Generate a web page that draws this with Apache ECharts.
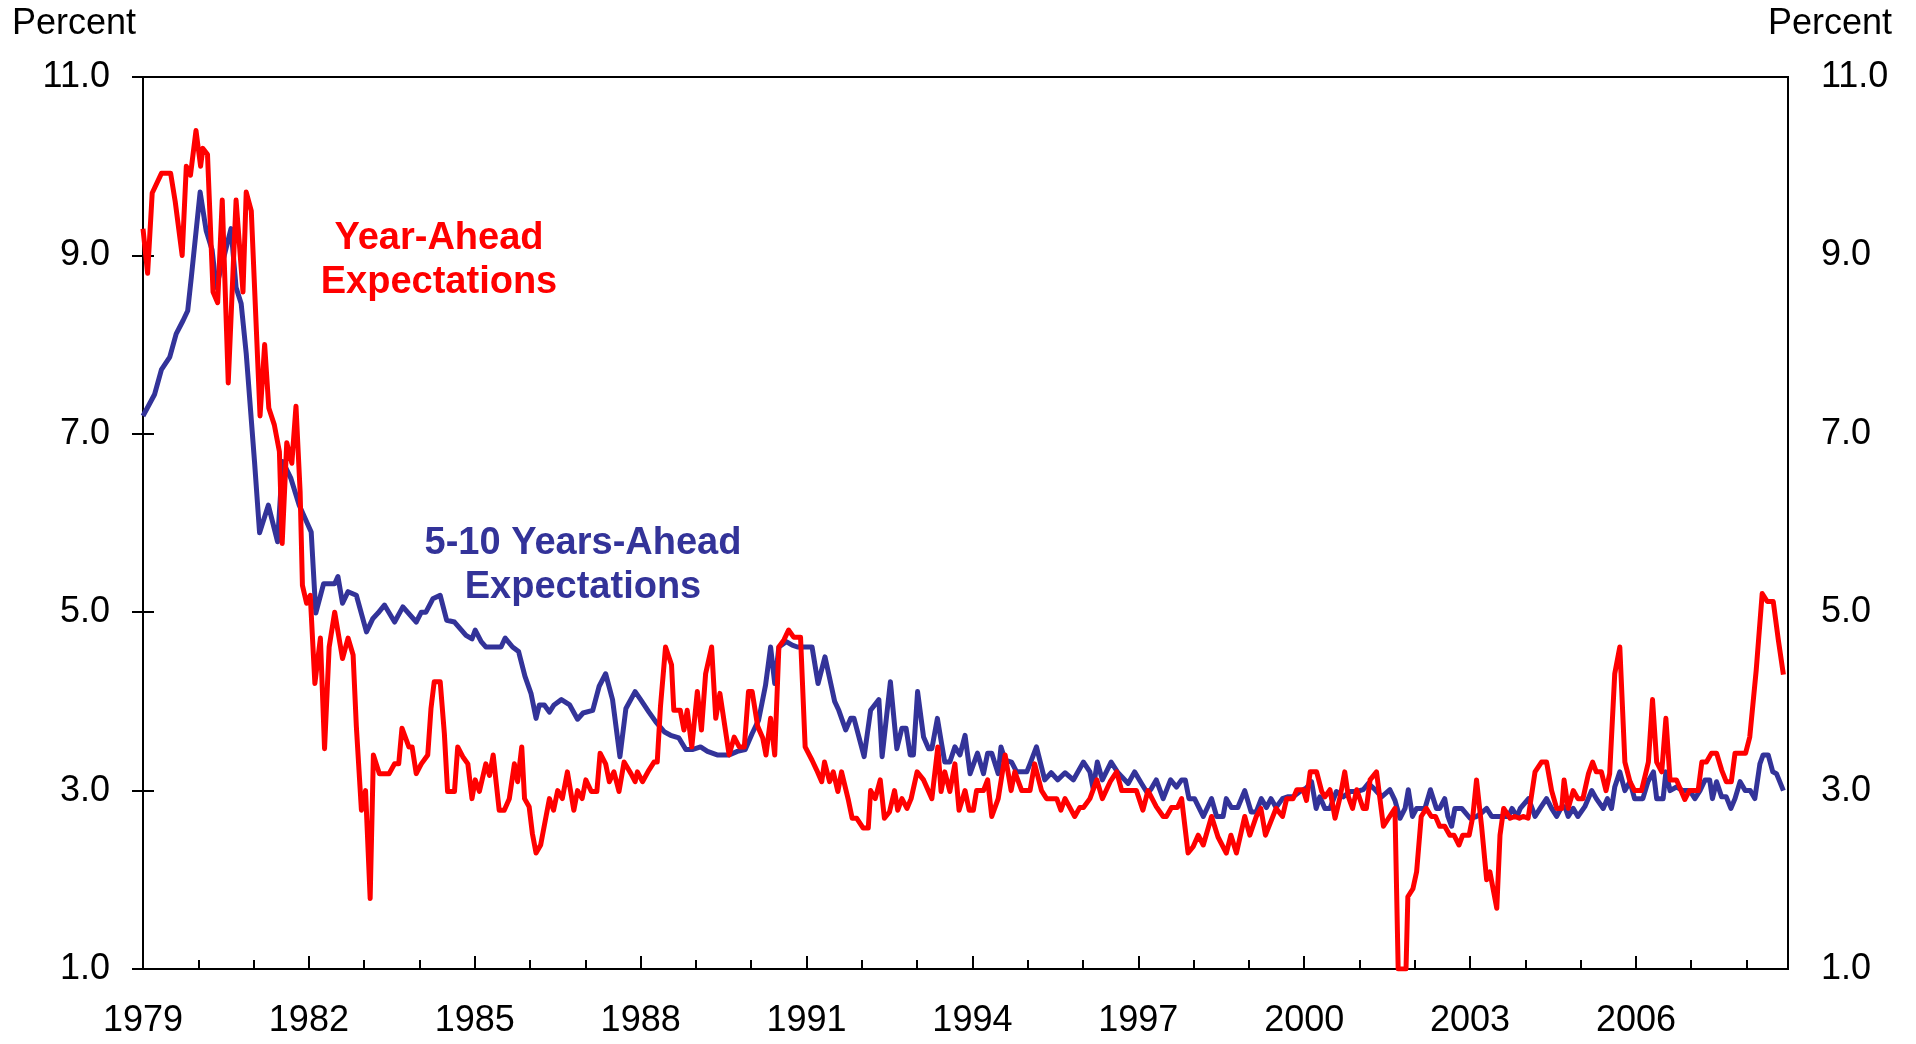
<!DOCTYPE html>
<html>
<head>
<meta charset="utf-8">
<title>Inflation Expectations</title>
<script src="https://cdn.jsdelivr.net/npm/echarts@6.0.0/dist/echarts.min.js"></script>
<style>
  html, body { margin: 0; padding: 0; background: #fff; }
  #chart { width: 1916px; height: 1044px; }
</style>
</head>
<body>
<div id="chart"></div>
<script>
// x = months since Jan 1979, y = percent
var startYear = 1979;
var lastMonth = 357;
var yTicks = [1, 3, 5, 7, 9, 11];

// 5-10 years-ahead expectations
var longRun = [
  [0, 7.2], [2.5, 7.44], [4, 7.72], [5.8, 7.86], [7.2, 8.12], [8.7, 8.27], [9.7, 8.38], [10.5, 8.76],
  [12.4, 9.71], [13.7, 9.28], [15, 9.06], [15.9, 8.64], [19.1, 9.3], [20.2, 8.64], [21.3, 8.46], [22.4, 7.9],
  [24.2, 6.69], [25.3, 5.89], [27.2, 6.2], [29.2, 5.79], [30.3, 6.69], [32.1, 6.5], [33.9, 6.2], [36.5, 5.9],
  [37.5, 4.99], [39.2, 5.32], [41.6, 5.32], [42.3, 5.4], [43.3, 5.1], [44.5, 5.23], [46.3, 5.19], [48.5, 4.78],
  [49.9, 4.93], [51, 4.99], [52.4, 5.08], [54.6, 4.89], [56.4, 5.06], [59.3, 4.89], [60.4, 5.0], [61.4, 5.0],
  [62.9, 5.15], [64.5, 5.19], [65.9, 4.91], [67.6, 4.89], [70.1, 4.74], [71.4, 4.7], [72.1, 4.8], [73.4, 4.67],
  [74.4, 4.61], [77.7, 4.61], [78.6, 4.71], [80.2, 4.61], [81.5, 4.56], [82.9, 4.28], [84.2, 4.09], [85.3, 3.81],
  [86, 3.96], [87.1, 3.96], [88.2, 3.88], [89.2, 3.96], [90.8, 4.02], [92.6, 3.96], [94.3, 3.8], [95.5, 3.87],
  [97.6, 3.9], [99, 4.17], [100.4, 4.31], [101.9, 4.02], [103.5, 3.38], [104.8, 3.92], [106.8, 4.11], [108, 4.02],
  [109.8, 3.88], [111.3, 3.77], [113.1, 3.66], [114.5, 3.62], [116.3, 3.59], [117.8, 3.46], [119.2, 3.46], [121, 3.49],
  [122.5, 3.44], [124.6, 3.4], [127.2, 3.4], [129, 3.44], [130.7, 3.46], [132.2, 3.64], [133.6, 3.79], [135.1, 4.18],
  [136.2, 4.61], [137.1, 4.2], [138, 4.61], [139.6, 4.67], [140.9, 4.63], [142, 4.61], [145.2, 4.61], [146.5, 4.2],
  [148, 4.5], [150.1, 4.0], [151, 3.9], [152.5, 3.68], [153.6, 3.81], [154.3, 3.81], [156.5, 3.38], [157.9, 3.9],
  [159.7, 4.02], [160.4, 3.38], [162.2, 4.22], [163.6, 3.47], [164.7, 3.7], [165.6, 3.7], [166.5, 3.4], [167.2, 3.4],
  [168.1, 4.11], [169.4, 3.6], [170.5, 3.47], [171.2, 3.47], [172.4, 3.81], [173.3, 3.53], [174, 3.32], [175.1, 3.32],
  [176.2, 3.49], [177.3, 3.4], [178.4, 3.62], [179.5, 3.19], [181.1, 3.42], [182.4, 3.19], [183.3, 3.42], [184.2, 3.42],
  [185.6, 3.19], [186.2, 3.49], [187.1, 3.34], [188.5, 3.32], [189.6, 3.21], [191.8, 3.21], [192.5, 3.3], [193.9, 3.49],
  [195.7, 3.12], [197.1, 3.2], [198.5, 3.12], [200.1, 3.2], [201.9, 3.12], [204.1, 3.32], [205.5, 3.21], [206.2, 3.02],
  [207.1, 3.32], [208.2, 3.12], [210.1, 3.32], [211.6, 3.2], [213.8, 3.08], [215.2, 3.21], [216.7, 3.08], [218, 2.97],
  [218.8, 3.02], [219.9, 3.12], [221.4, 2.91], [223, 3.12], [224.3, 3.04], [225.4, 3.12], [226.2, 3.12], [227, 2.91],
  [228.2, 2.91], [230.1, 2.71], [231.9, 2.91], [233, 2.71], [234.4, 2.71], [235.1, 2.91], [236.2, 2.81], [237.6, 2.81],
  [239.1, 3.0], [240.5, 2.76], [241.6, 2.76], [242.7, 2.91], [243.8, 2.81], [244.8, 2.91], [245.9, 2.81], [247.3, 2.91],
  [248.4, 2.93], [249.6, 2.93], [251.1, 2.99], [252.5, 3.03], [253.6, 3.1], [254.6, 2.8], [255.4, 2.93], [256.5, 2.8],
  [257.6, 2.8], [259, 2.99], [260.5, 2.93], [262, 2.99], [263.4, 2.99], [264.8, 3.01], [265.9, 3.08], [267.4, 3.01],
  [268.8, 2.93], [270.6, 3.01], [271.7, 2.89], [272.8, 2.69], [273.9, 2.8], [274.6, 3.01], [275.5, 2.71], [276.4, 2.8],
  [278.2, 2.8], [279.4, 3.01], [280.7, 2.8], [281.4, 2.8], [282.5, 2.91], [283.2, 2.71], [284, 2.6], [284.7, 2.8],
  [286.2, 2.8], [288, 2.69], [289.4, 2.71], [290.5, 2.75], [291.6, 2.8], [292.7, 2.71], [296.3, 2.71], [297.1, 2.8],
  [298.2, 2.71], [298.9, 2.8], [300.7, 2.91], [302.1, 2.71], [303.2, 2.8], [304.6, 2.91], [305.7, 2.8], [306.8, 2.71],
  [307.9, 2.82], [308.6, 2.82], [309.3, 2.71], [310.4, 2.8], [311.4, 2.71], [312.9, 2.82], [314.4, 3.0], [315.4, 2.91],
  [316.9, 2.8], [317.8, 2.91], [318.7, 2.8], [319.4, 3.04], [320.5, 3.21], [321.6, 3.0], [322.7, 3.1], [323.7, 2.91],
  [325.5, 2.91], [326.6, 3.1], [327.8, 3.21], [328.5, 2.91], [329.9, 2.91], [330.5, 3.21], [331.4, 3.0], [332.8, 3.04],
  [334.2, 3.0], [335.7, 3.0], [336.8, 2.91], [337.9, 3.0], [339, 3.12], [340, 3.12], [340.6, 2.91], [341.5, 3.1],
  [342.6, 2.93], [343.6, 2.93], [344.6, 2.8], [345.5, 2.91], [346.6, 3.1], [347.7, 3.0], [348.8, 3.0], [349.8, 2.91],
  [350.9, 3.3], [351.6, 3.4], [352.7, 3.4], [353.7, 3.21], [354.5, 3.19], [356, 3.0]
];

// year-ahead expectations
var yearAhead = [
  [0, 9.3], [1, 8.8], [2, 9.7], [4, 9.92], [6, 9.92], [7, 9.6], [8.5, 9.0], [9.4, 10.0],
  [10.3, 9.9], [11.5, 10.4], [12.5, 10.0], [13, 10.2], [14, 10.13], [15.2, 8.59], [16.2, 8.47], [17.2, 9.62],
  [18.5, 7.57], [20.2, 9.62], [21.7, 8.59], [22.4, 9.71], [23.5, 9.5], [25.4, 7.2], [26.4, 8.0], [27.3, 7.29],
  [28.5, 7.1], [29.6, 6.8], [30.2, 5.77], [31.2, 6.9], [32.3, 6.67], [33.2, 7.31], [34.1, 6.35], [34.6, 5.3],
  [35.5, 5.1], [36.3, 5.19], [37.3, 4.2], [38.5, 4.71], [39.4, 3.47], [40.4, 4.61], [41.6, 5.0], [43.3, 4.48],
  [44.5, 4.71], [45.6, 4.52], [46.3, 3.72], [47.4, 2.78], [48.3, 3.0], [49.3, 1.79], [50, 3.4], [51.3, 3.19],
  [53.4, 3.19], [54.6, 3.3], [55.5, 3.3], [56.2, 3.7], [57.7, 3.49], [58.4, 3.49], [59.3, 3.19], [60.4, 3.3],
  [61.8, 3.4], [62.5, 3.92], [63.2, 4.22], [64.5, 4.22], [65.4, 3.64], [66.1, 2.99], [67.6, 2.99], [68.3, 3.49],
  [69.4, 3.38], [70.5, 3.3], [71.4, 2.91], [72.1, 3.12], [73, 2.99], [74.4, 3.3], [75.2, 3.17], [76, 3.4],
  [77.3, 2.78], [78.4, 2.78], [79.5, 2.91], [80.6, 3.3], [81.3, 3.1], [82.2, 3.49], [82.8, 2.91], [83.8, 2.82],
  [84.5, 2.52], [85.3, 2.3], [86.3, 2.39], [88.2, 2.91], [89.1, 2.78], [90, 3.0], [91, 2.91], [92.1, 3.21],
  [93.5, 2.78], [94.3, 3.0], [95.3, 2.91], [96.1, 3.12], [97.3, 2.99], [98.5, 2.99], [99.2, 3.42], [100.4, 3.3],
  [101.2, 3.1], [102.2, 3.21], [103.3, 2.99], [104.4, 3.32], [105.9, 3.19], [106.8, 3.1], [107.3, 3.21], [108.4, 3.1],
  [109.8, 3.23], [110.9, 3.32], [111.6, 3.32], [112.3, 3.94], [113.4, 4.61], [114.7, 4.41], [115.2, 3.9], [116.6, 3.9],
  [117.4, 3.68], [118.1, 3.9], [119.1, 3.49], [120.3, 4.11], [121.2, 3.68], [122.1, 4.31], [123.4, 4.61], [124.3, 3.81],
  [125.2, 4.09], [127.2, 3.4], [128.3, 3.6], [129.4, 3.49], [130.5, 3.49], [131.4, 4.11], [132.2, 4.11], [133.4, 3.72],
  [134.5, 3.59], [135.2, 3.4], [136.2, 3.81], [137.1, 3.4], [138, 4.61], [139.1, 4.69], [140.1, 4.8], [141.2, 4.72],
  [142.7, 4.72], [143.7, 3.49], [145.2, 3.34], [146.2, 3.23], [147.3, 3.1], [147.9, 3.32], [149, 3.1], [149.8, 3.21],
  [150.8, 2.99], [151.6, 3.21], [153.1, 2.89], [153.9, 2.69], [154.9, 2.69], [156.3, 2.58], [157.4, 2.58], [157.9, 3.0],
  [158.9, 2.91], [160, 3.12], [160.9, 2.69], [162, 2.76], [163.1, 3.0], [163.8, 2.78], [164.7, 2.91], [165.8, 2.8],
  [166.7, 2.91], [168, 3.21], [169.4, 3.12], [171.2, 2.91], [172.5, 3.49], [173.2, 2.99], [174, 3.21], [175.1, 2.99],
  [176.2, 3.3], [177.1, 2.78], [178.4, 3.0], [179.3, 2.78], [180.2, 2.78], [180.9, 3.0], [182.4, 3.0], [183.3, 3.12],
  [184.2, 2.71], [185.6, 2.91], [187.1, 3.4], [188.4, 3.0], [189.2, 3.21], [190.7, 3.0], [192.5, 3.0], [193.5, 3.3],
  [195, 3.0], [196.1, 2.91], [198.3, 2.91], [199.2, 2.78], [200.1, 2.91], [202.2, 2.71], [203.3, 2.81], [204.1, 2.81],
  [205.5, 2.91], [207, 3.12], [208.2, 2.91], [209.9, 3.1], [211.3, 3.21], [212.4, 3.0], [215.6, 3.0], [217, 2.78],
  [218.1, 3.0], [219.9, 2.82], [221.4, 2.71], [222.1, 2.71], [223.2, 2.81], [224.5, 2.81], [225.4, 2.91], [226.8, 2.3],
  [227.9, 2.37], [229, 2.5], [230.1, 2.39], [231.9, 2.71], [233.3, 2.48], [235.1, 2.3], [236.1, 2.5], [237.3, 2.3],
  [239.1, 2.71], [240.2, 2.5], [241.6, 2.71], [242.6, 2.8], [243.6, 2.5], [245.9, 2.8], [247.3, 2.71], [248.2, 2.91],
  [249.6, 2.91], [250.4, 3.01], [251.8, 3.01], [252.5, 2.89], [253.3, 3.21], [254.7, 3.21], [255.8, 2.99], [256.5, 2.93],
  [257.6, 3.01], [258.7, 2.69], [259.8, 2.93], [260.8, 3.21], [261.6, 2.93], [262.5, 2.8], [263.4, 3.01], [264.8, 2.8],
  [265.5, 2.8], [266.3, 3.12], [267.7, 3.21], [269.2, 2.6], [270.3, 2.69], [271.7, 2.8], [272.4, 1.0], [274.1, 1.0],
  [274.5, 1.81], [275.6, 1.9], [276.4, 2.09], [277.4, 2.71], [278.5, 2.8], [279.6, 2.71], [280.5, 2.71], [281.4, 2.6],
  [282.5, 2.6], [283.6, 2.5], [284.5, 2.5], [285.6, 2.39], [286.4, 2.5], [287.8, 2.5], [288.6, 2.71], [289.4, 3.12],
  [290.5, 2.6], [291.6, 2.0], [292.3, 2.09], [293.8, 1.68], [294.5, 2.5], [295.3, 2.8], [296.7, 2.69], [297.7, 2.71],
  [298.7, 2.69], [299.5, 2.71], [300.6, 2.69], [302.1, 3.21], [303.5, 3.32], [304.6, 3.32], [305.7, 3.0], [306.8, 2.8],
  [307.9, 2.8], [308.4, 3.12], [309.3, 2.8], [310.4, 3.0], [311.4, 2.91], [312.5, 2.91], [313.7, 3.19], [314.6, 3.32],
  [315.4, 3.21], [316.5, 3.21], [317.5, 3.0], [318.3, 3.19], [319.4, 4.31], [320.5, 4.61], [321.6, 3.32], [322.7, 3.1],
  [323.7, 3.0], [325.2, 3.0], [326.2, 3.21], [326.7, 3.32], [327.6, 4.02], [328.5, 3.32], [329.6, 3.21], [330.5, 3.81],
  [331.4, 3.12], [332.8, 3.12], [334.6, 2.9], [335.6, 3.0], [337.5, 3.0], [338.3, 3.32], [339.3, 3.32], [340.4, 3.42],
  [341.5, 3.42], [342.6, 3.23], [343.6, 3.1], [344.7, 3.1], [345.5, 3.42], [347.8, 3.42], [348.7, 3.6], [350.1, 4.35],
  [351.4, 5.21], [352.5, 5.12], [353.8, 5.12], [354.9, 4.69], [356, 4.3]
];

var font = "'Liberation Sans', Arial, sans-serif";
var chart = echarts.init(document.getElementById("chart"));

function yAxisDef(pos) {
  return {
    type: "value",
    position: pos,
    min: yTicks[0],
    max: yTicks[yTicks.length - 1],
    interval: 2,
    axisLine: { show: true, lineStyle: { color: "#000", width: 2 } },
    axisTick: { show: true, inside: true, length: 11, lineStyle: { color: "#000", width: 2 } },
    axisLabel: {
      margin: 33,
      color: "#000",
      fontSize: 36,
      fontFamily: font,
      formatter: function (v) { return v.toFixed(1); }
    },
    splitLine: { show: false }
  };
}

var option = {
  animation: false,
  backgroundColor: "#fff",
  grid: {
    left: 143,
    right: 128,
    top: 77,
    bottom: 75,
    show: true,
    borderColor: "#000",
    borderWidth: 2
  },
  xAxis: [
    {
      // year labels every three years
      type: "value",
      min: 0,
      max: lastMonth,
      interval: 36,
      axisLine: { show: true, onZero: false, lineStyle: { color: "#000", width: 2 } },
      axisTick: { show: true, inside: true, length: 13, lineStyle: { color: "#000", width: 2 } },
      axisLabel: {
        margin: 34,
        color: "#000",
        fontSize: 36,
        fontFamily: font,
        showMaxLabel: false,
        formatter: function (v) {
          return v % 12 === 0 ? String(startYear + v / 12) : "";
        }
      },
      splitLine: { show: false }
    },
    {
      // yearly minor ticks
      type: "value",
      min: 0,
      max: lastMonth,
      interval: 12,
      position: "bottom",
      axisLine: { show: false, onZero: false },
      axisTick: { show: true, inside: true, length: 9, lineStyle: { color: "#000", width: 2 } },
      axisLabel: { show: false },
      splitLine: { show: false }
    }
  ],
  yAxis: [yAxisDef("left"), yAxisDef("right")],
  graphic: [
    {
      type: "text", x: 12, y: 24,
      style: { text: "Percent", fill: "#000", font: "36px " + font, align: "left", verticalAlign: "middle" }
    },
    {
      type: "text", x: 1892, y: 24,
      style: { text: "Percent", fill: "#000", font: "36px " + font, align: "right", verticalAlign: "middle" }
    },
    {
      type: "text", x: 439, y: 261,
      style: {
        text: "Year-Ahead\nExpectations", fill: "#ff0000", font: "bold 38px " + font,
        align: "center", verticalAlign: "middle", lineHeight: 44
      }
    },
    {
      type: "text", x: 583, y: 566,
      style: {
        text: "5-10 Years-Ahead\nExpectations", fill: "#333399", font: "bold 38px " + font,
        align: "center", verticalAlign: "middle", lineHeight: 44
      }
    }
  ],
  series: [
    {
      name: "5-10 Years-Ahead Expectations",
      type: "line",
      xAxisIndex: 0,
      yAxisIndex: 0,
      data: longRun,
      showSymbol: false,
      clip: true,
      lineStyle: { color: "#333399", width: 5, join: "round" }
    },
    {
      name: "Year-Ahead Expectations",
      type: "line",
      xAxisIndex: 0,
      yAxisIndex: 0,
      data: yearAhead,
      showSymbol: false,
      clip: true,
      lineStyle: { color: "#ff0000", width: 5, join: "round" }
    }
  ]
};

chart.setOption(option);
window.addEventListener("resize", function () {
  chart.resize();
});
</script>
</body>
</html>
